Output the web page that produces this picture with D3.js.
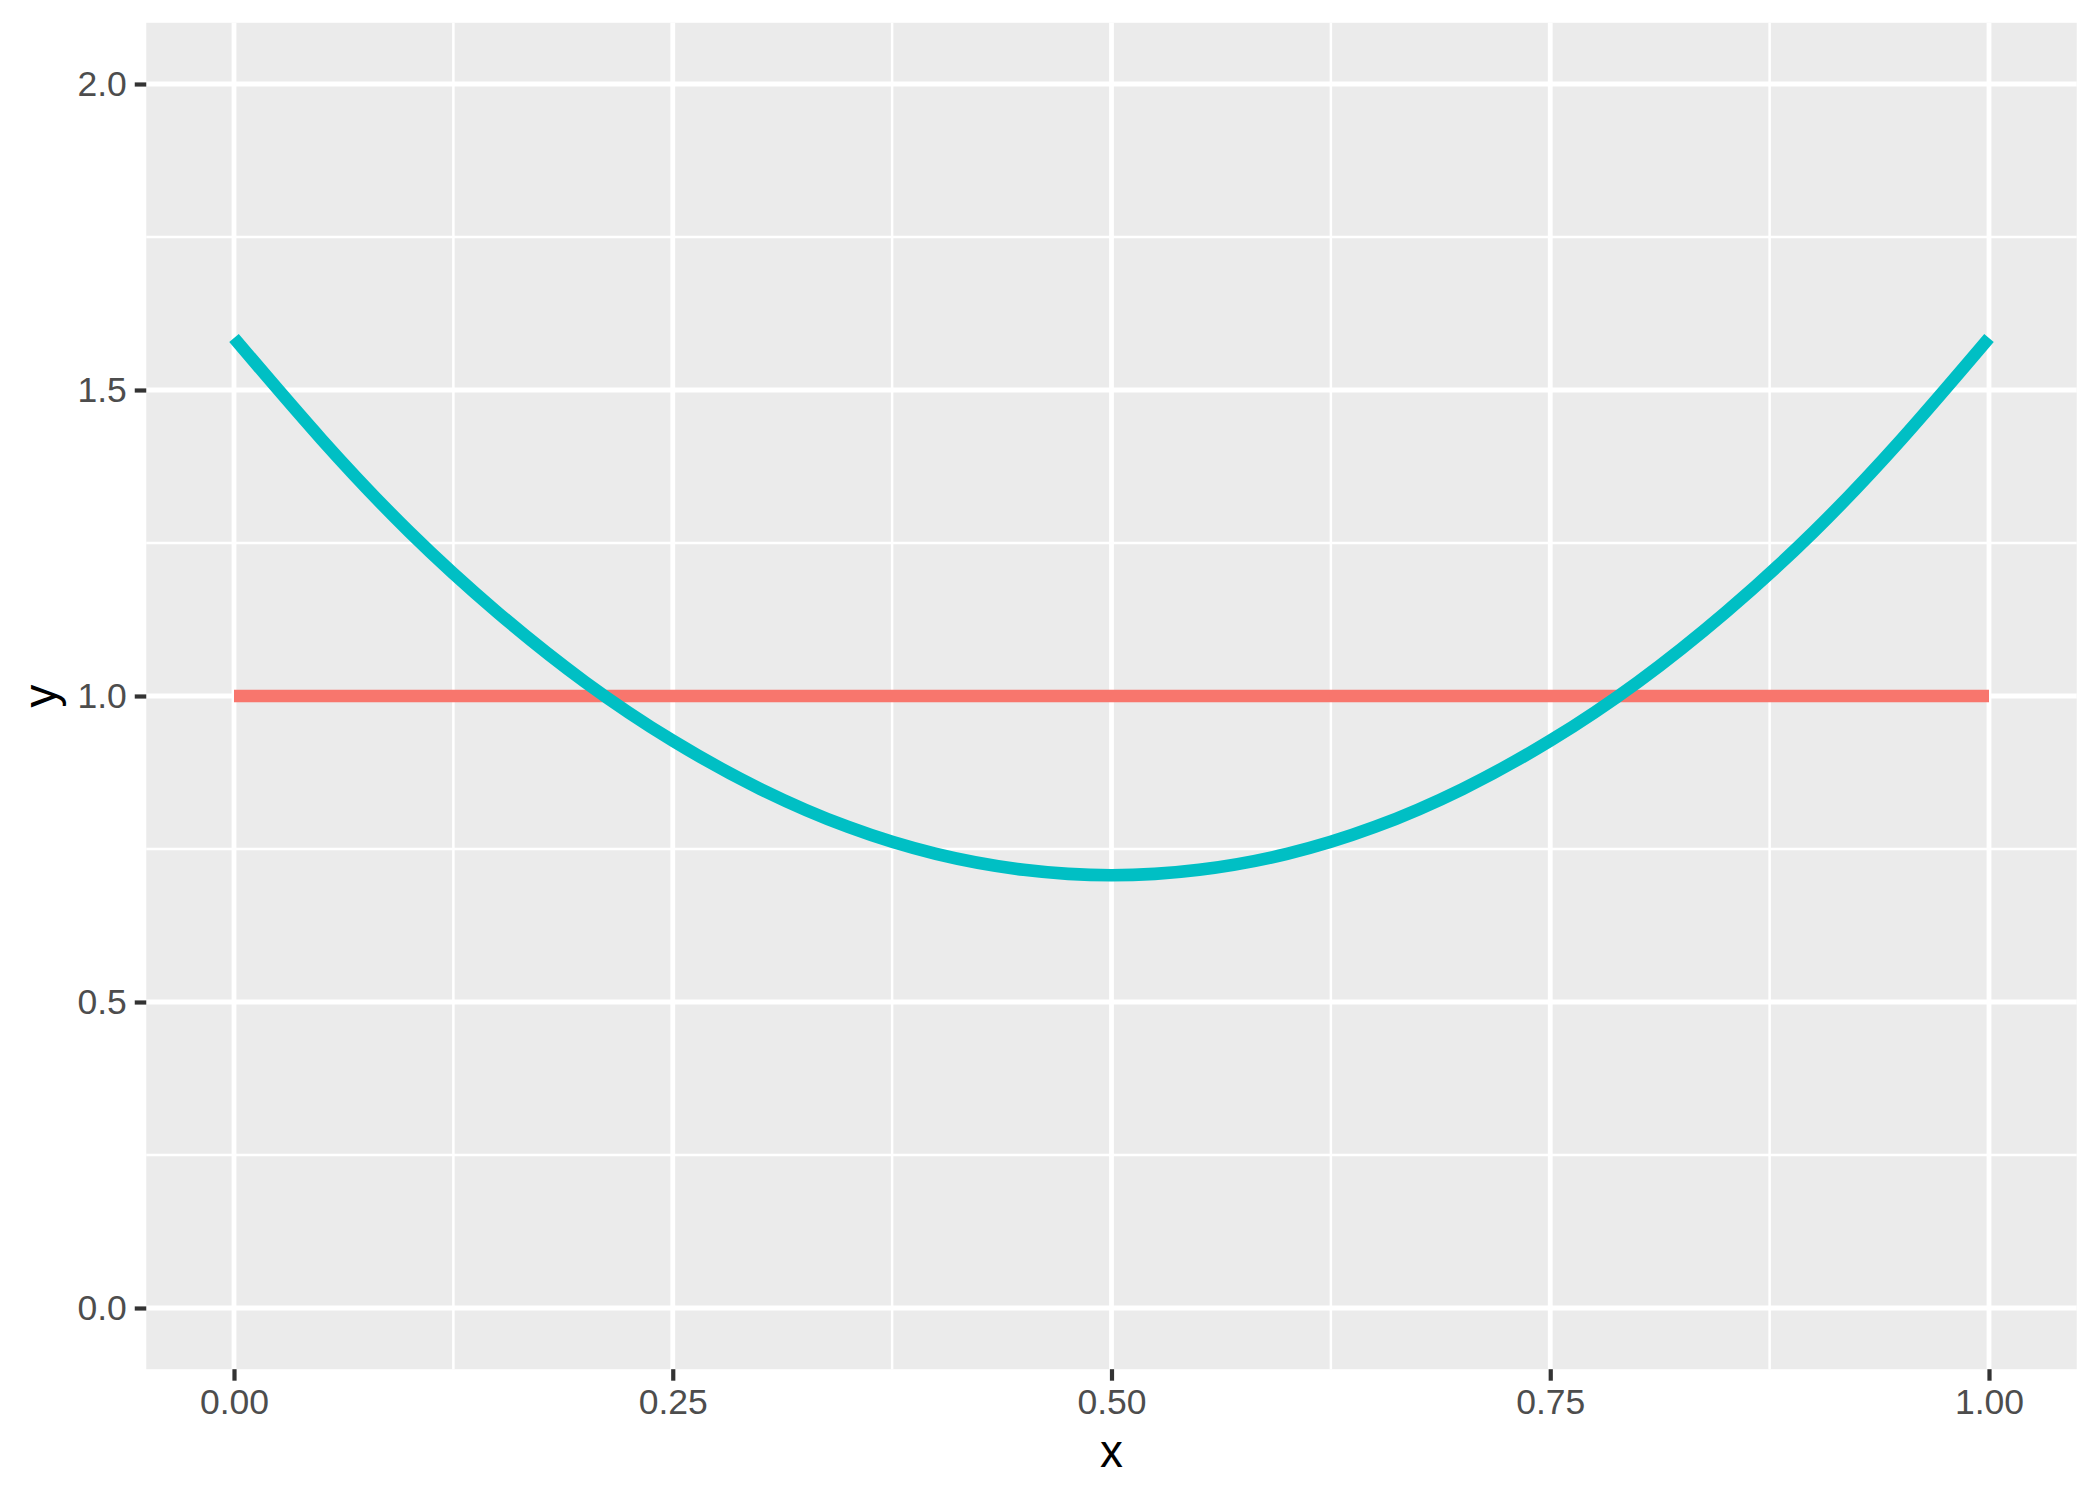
<!DOCTYPE html>
<html>
<head>
<meta charset="utf-8">
<script src="https://cdn.jsdelivr.net/npm/d3@7"></script>
<style>
  html, body { margin: 0; padding: 0; background: #ffffff; }
  svg { display: block; }
</style>
</head>
<body>
<script>
// ---- data ----
const xTicks = [0, 0.25, 0.5, 0.75, 1];
const xTickLabels = ["0.00", "0.25", "0.50", "0.75", "1.00"];
const xMinor = [0.125, 0.375, 0.625, 0.875];
const yTicks = [0, 0.5, 1, 1.5, 2];
const yTickLabels = ["0.0", "0.5", "1.0", "1.5", "2.0"];
const yMinor = [0.25, 0.75, 1.25, 1.75];

const flatX = [0, 1];
const flatY = [1, 1];

const curveX = [0, 0.05, 0.10, 0.15, 0.20, 0.25, 0.30, 0.35, 0.40, 0.45, 0.50,
                0.55, 0.60, 0.65, 0.70, 0.75, 0.80, 0.85, 0.90, 0.95, 1.00];
const curveY = [1.585, 1.419, 1.268, 1.137, 1.023, 0.927, 0.848, 0.786, 0.742, 0.716, 0.707,
                0.716, 0.742, 0.786, 0.848, 0.927, 1.023, 1.137, 1.268, 1.419, 1.585];

const seriesColors = ["#F8766D", "#00BFC4"];

// ---- layout ----
const W = 2100, H = 1499;
const svg = d3.select("body").append("svg").attr("width", W).attr("height", H);
svg.append("rect").attr("width", W).attr("height", H).attr("fill", "#ffffff");

const x = d3.scaleLinear().domain([0, 1]).range([234, 1989]);
const y = d3.scaleLinear().domain([0, 2]).range([1308, 84]);

const px0 = x(-0.05), px1 = x(1.05), py0 = y(2.1), py1 = y(-0.1);

// panel
svg.append("rect")
  .attr("x", px0).attr("y", py0)
  .attr("width", px1 - px0).attr("height", py1 - py0)
  .attr("fill", "#EBEBEB");

const grid = svg.append("g");
// minor grid
grid.selectAll(".xminor").data(xMinor).join("line")
  .attr("x1", d => x(d)).attr("x2", d => x(d)).attr("y1", py0).attr("y2", py1)
  .attr("stroke", "#ffffff").attr("stroke-width", 2.5);
grid.selectAll(".yminor").data(yMinor).join("line")
  .attr("y1", d => y(d)).attr("y2", d => y(d)).attr("x1", px0).attr("x2", px1)
  .attr("stroke", "#ffffff").attr("stroke-width", 2.5);
// major grid
grid.selectAll(".xmajor").data(xTicks).join("line")
  .attr("x1", d => x(d)).attr("x2", d => x(d)).attr("y1", py0).attr("y2", py1)
  .attr("stroke", "#ffffff").attr("stroke-width", 4.8);
grid.selectAll(".ymajor").data(yTicks).join("line")
  .attr("y1", d => y(d)).attr("y2", d => y(d)).attr("x1", px0).attr("x2", px1)
  .attr("stroke", "#ffffff").attr("stroke-width", 4.8);

// lines
const flatData = flatX.map((v, i) => [v, flatY[i]]);
const curveData = curveX.map((v, i) => [v, curveY[i]]);

svg.append("path").datum(flatData)
  .attr("d", d3.line().x(d => x(d[0])).y(d => y(d[1])))
  .attr("fill", "none").attr("stroke", seriesColors[0])
  .attr("stroke-width", 12.5).attr("stroke-linecap", "butt");

svg.append("path").datum(curveData)
  .attr("d", d3.line().x(d => x(d[0])).y(d => y(d[1])).curve(d3.curveNatural))
  .attr("fill", "none").attr("stroke", seriesColors[1])
  .attr("stroke-width", 12.5).attr("stroke-linecap", "butt").attr("stroke-linejoin", "round");

// axes
const font = "'Liberation Sans', Arial, Helvetica, sans-serif";
const xAxis = d3.axisBottom(x).tickValues(xTicks)
  .tickFormat((d, i) => xTickLabels[i]).tickSize(11.5).tickPadding(8);
const gx = svg.append("g").attr("transform", `translate(0,${py1})`).call(xAxis);
gx.select(".domain").remove();
gx.selectAll(".tick line").attr("stroke", "#333333").attr("stroke-width", 4.2);
gx.selectAll(".tick text").attr("fill", "#4D4D4D")
  .style("font-family", font).style("font-size", "35.5px");

const yAxis = d3.axisLeft(y).tickValues(yTicks)
  .tickFormat((d, i) => yTickLabels[i]).tickSize(11.5).tickPadding(8);
const gy = svg.append("g").attr("transform", `translate(${px0},0)`).call(yAxis);
gy.select(".domain").remove();
gy.selectAll(".tick line").attr("stroke", "#333333").attr("stroke-width", 4.2);
gy.selectAll(".tick text").attr("fill", "#4D4D4D")
  .style("font-family", font).style("font-size", "35.5px");

// axis titles
svg.append("text")
  .attr("x", x(0.5)).attr("y", 1467)
  .attr("text-anchor", "middle")
  .style("font-family", font).style("font-size", "45.8px").attr("fill", "#000000")
  .text("x");

svg.append("text")
  .attr("transform", `translate(56,${(py0 + py1) / 2}) rotate(-90)`)
  .attr("text-anchor", "middle")
  .style("font-family", font).style("font-size", "45.8px").attr("fill", "#000000")
  .text("y");
</script>
</body>
</html>
